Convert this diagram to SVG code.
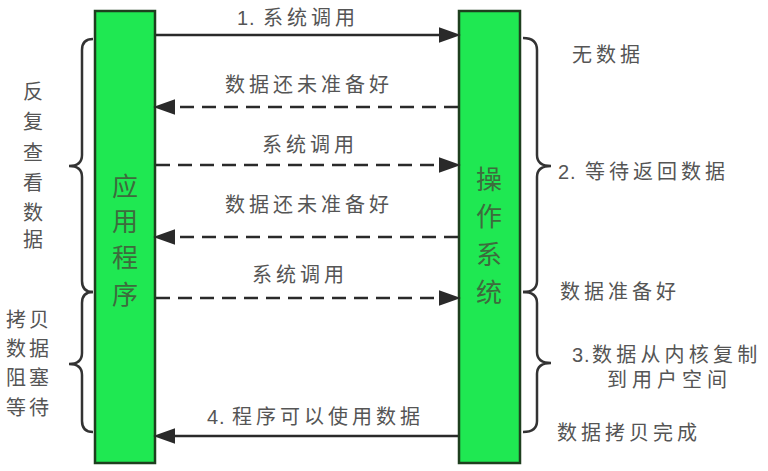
<svg xmlns="http://www.w3.org/2000/svg" width="768" height="471" viewBox="0 0 768 471">
<defs>
<style>
.bar{fill:#1fe852;stroke:#1e3f1e;stroke-width:2.5}
.bl{font-family:"Noto Sans CJK SC",sans-serif;font-size:26px;fill:#3d6b3d;text-anchor:middle}
.t{font-family:"Liberation Sans","Noto Sans CJK SC",sans-serif;font-size:20px;fill:#555;letter-spacing:4px}
.v{font-family:"Noto Sans CJK SC",sans-serif;font-size:20px;fill:#555;text-anchor:middle}
.ln{stroke:#2a2a2a;stroke-width:2.5;fill:none}
.dash{stroke-dasharray:14 8}
.br{stroke:#333;stroke-width:2.5;fill:none}
</style>
<marker id="ah" markerUnits="userSpaceOnUse" markerWidth="22" markerHeight="16" viewBox="0 0 20 14" refX="2" refY="7" orient="auto">
<path d="M0,0 L20,7 L0,14 Z" fill="#2a2a2a"/>
</marker>
</defs>
<rect width="768" height="471" fill="#fff"/>

<g id="app">
<rect class="bar" x="95" y="11" width="60" height="452"/>
<text class="bl" x="125" y="196">应</text>
<text class="bl" x="125" y="231">用</text>
<text class="bl" x="125" y="267">程</text>
<text class="bl" x="125" y="304">序</text>
</g>

<g id="os">
<rect class="bar" x="459" y="11" width="61" height="452"/>
<text class="bl" x="489" y="189">操</text>
<text class="bl" x="489" y="226">作</text>
<text class="bl" x="489" y="264">系</text>
<text class="bl" x="489" y="302">统</text>
</g>

<g id="connectors">
<line class="ln" x1="156" y1="35" x2="441" y2="35" marker-end="url(#ah)"/>
<line class="ln dash" x1="458" y1="107" x2="173" y2="107" marker-end="url(#ah)"/>
<line class="ln dash" x1="156" y1="165" x2="441" y2="165" marker-end="url(#ah)"/>
<line class="ln dash" x1="458" y1="237" x2="173" y2="237" marker-end="url(#ah)"/>
<line class="ln dash" x1="156" y1="298" x2="441" y2="298" marker-end="url(#ah)"/>
<line class="ln" x1="458" y1="436" x2="173" y2="436" marker-end="url(#ah)"/>
</g>

<g id="arrow-labels">
<text class="t" x="237" y="25" style="letter-spacing:1px">1.<tspan x="263" style="letter-spacing:4px">系统调用</tspan></text>
<text class="t" x="225" y="92">数据还未准备好</text>
<text class="t" x="262" y="152">系统调用</text>
<text class="t" x="225" y="212">数据还未准备好</text>
<text class="t" x="252" y="282">系统调用</text>
<text class="t" x="207" y="424" style="letter-spacing:1px">4.<tspan x="232" style="letter-spacing:4px">程序可以使用数据</tspan></text>
</g>

<g id="left-braces">
<path class="br" d="M93,39 Q82,39 82,50 L82,155 Q82,166 69,166 Q82,166 82,177 L82,281 Q82,292 93,292"/>
<path class="br" d="M93,292 Q82,292 82,303 L82,353 Q82,364 69,364 Q82,364 82,375 L82,421 Q82,432 93,432"/>
</g>

<g id="left-labels">
<text class="v" x="33" y="99">反</text>
<text class="v" x="33" y="129">复</text>
<text class="v" x="33" y="160">查</text>
<text class="v" x="33" y="190">看</text>
<text class="v" x="33" y="220">数</text>
<text class="v" x="33" y="247">据</text>
<text class="v" x="16" y="327">拷</text>
<text class="v" x="39" y="327">贝</text>
<text class="v" x="16" y="356">数</text>
<text class="v" x="39" y="356">据</text>
<text class="v" x="16" y="385">阻</text>
<text class="v" x="39" y="385">塞</text>
<text class="v" x="16" y="415">等</text>
<text class="v" x="39" y="415">待</text>
</g>

<g id="right-braces">
<path class="br" d="M523,38 Q537,38 537,50 L537,155 Q537,166 551,166 Q537,166 537,177 L537,281 Q537,292 523,292"/>
<path class="br" d="M523,292 Q537,292 537,303 L537,352 Q537,363 551,363 Q537,363 537,374 L537,421 Q537,432 523,432"/>
</g>

<g id="right-labels">
<text class="t" x="572" y="62">无数据</text>
<text class="t" x="558" y="179" style="letter-spacing:1px">2.<tspan x="585" style="letter-spacing:4px">等待返回数据</tspan></text>
<text class="t" x="560" y="299">数据准备好</text>
<text class="t" x="572" y="362" style="letter-spacing:1px">3.<tspan x="592" style="letter-spacing:4.2px">数据从内核复制</tspan></text>
<text class="t" x="607" y="387" style="letter-spacing:5px">到用户空间</text>
<text class="t" x="557" y="440">数据拷贝完成</text>
</g>
</svg>
